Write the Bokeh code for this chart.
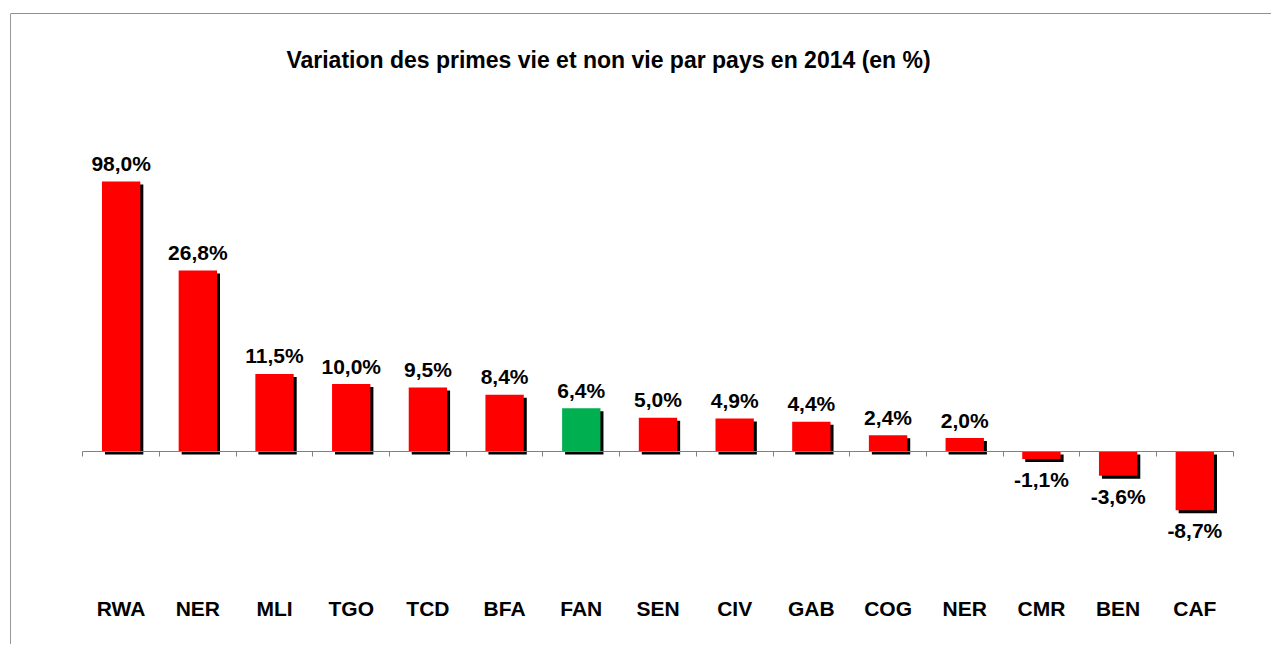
from bokeh.plotting import figure
from bokeh.models import Range1d, LinearAxis, FixedTicker, Span, Label, ColumnDataSource
from bokeh.embed import file_html
from bokeh.resources import INLINE
from bokeh.core.properties import value

# ---- data ----
countries = ["RWA", "NER", "MLI", "TGO", "TCD", "BFA", "FAN", "SEN",
             "CIV", "GAB", "COG", "NER", "CMR", "BEN", "CAF"]
growth_pct = [98.0, 26.8, 11.5, 10.0, 9.5, 8.4, 6.4, 5.0,
              4.9, 4.4, 2.4, 2.0, -1.1, -3.6, -8.7]
# bar heights as drawn in the chart (the RWA bar is cut off at about 40 %)
bar_heights = [40.0, 26.8, 11.5, 10.0, 9.5, 8.4, 6.4, 5.0,
               4.9, 4.4, 2.4, 2.0, -1.1, -3.6, -8.7]
highlight = "FAN"
title_text = "Variation des primes vie et non vie par pays en 2014 (en %)"

FONT = "Liberation Sans"
RED = "#FF0000"
GREEN = "#00B050"

xs = list(range(len(countries)))
colors = [GREEN if c == highlight else RED for c in countries]
labels = [f"{v:.1f}".replace(".", ",") + "%" for v in growth_pct]
yoffs = [-18 if h >= 0 else 20.5 for h in bar_heights]

# pixel -> data conversions (category width ~76.7 px, 6.75 px per %)
PX_X = 1 / 76.69
PX_Y = 1 / 6.75
dx, dy = 3 * PX_X, 3 * PX_Y

src = ColumnDataSource(dict(x=xs, h=bar_heights, colors=colors, label=labels, yoff=yoffs))
shadow = ColumnDataSource(dict(
    x=[x + dx for x in xs],
    top=[max(h, 0) - dy for h in bar_heights],
    bottom=[min(h, 0) - dy for h in bar_heights],
))

x0, x1 = -1.4428, 15.0
y0, y1 = -28.59, 64.89

p = figure(width=1271, height=644,
           x_range=Range1d(x0, x1), y_range=Range1d(y0, y1),
           output_backend="svg", toolbar_location=None,
           x_axis_location=None, y_axis_location=None,
           min_border_left=10, min_border_top=13, min_border_right=0, min_border_bottom=0)
p.xgrid.grid_line_color = None
p.ygrid.grid_line_color = None
p.outline_line_color = None
p.background_fill_color = "white"
p.border_fill_color = "white"

# chart border (left and top visible)
p.add_layout(Span(location=x0, dimension="height", line_color="#333333", line_width=1))
p.add_layout(Span(location=y1, dimension="width", line_color="#222222", line_width=1))

# bars with shadow
p.vbar(x="x", top="top", bottom="bottom", width=0.5, source=shadow,
       fill_color="black", line_color=None)
p.vbar(x="x", top="h", bottom=0, width=0.5, source=src,
       fill_color="colors", line_color=None)

# baseline axis with ticks between categories
bticks = [i - 0.5 for i in range(len(countries) + 1)]
base_axis = LinearAxis(fixed_location=0, ticker=FixedTicker(ticks=bticks),
                       bounds=(-0.5, len(countries) - 0.5),
                       axis_line_color="#808080", axis_line_width=1,
                       major_tick_line_color="#808080", major_tick_in=0, major_tick_out=5,
                       minor_tick_line_color=None,
                       major_label_overrides={t: "" for t in bticks})
p.add_layout(base_axis, "below")

# category labels axis
cat_axis = LinearAxis(fixed_location=-21.48, ticker=FixedTicker(ticks=xs),
                      major_label_overrides={i: c for i, c in enumerate(countries)},
                      axis_line_color=None, major_tick_line_color=None,
                      minor_tick_line_color=None, major_tick_in=0, major_tick_out=0,
                      major_label_standoff=0,
                      major_label_text_font=FONT, major_label_text_font_style="bold",
                      major_label_text_font_size="21px", major_label_text_color="black")
p.add_layout(cat_axis, "below")

# value labels
p.text(x="x", y="h", text="label", y_offset="yoff", source=src,
       text_align="center", text_baseline="middle",
       text_font=value(FONT), text_font_style="bold", text_font_size="21px",
       text_color="black")

# title
p.add_layout(Label(x=6.355, y=58.0, text=title_text, text_align="center",
                   text_baseline="middle", text_font=FONT, text_font_style="bold",
                   text_font_size="23px", text_color="black"))

open("out.html", "w").write(file_html(p, INLINE))
